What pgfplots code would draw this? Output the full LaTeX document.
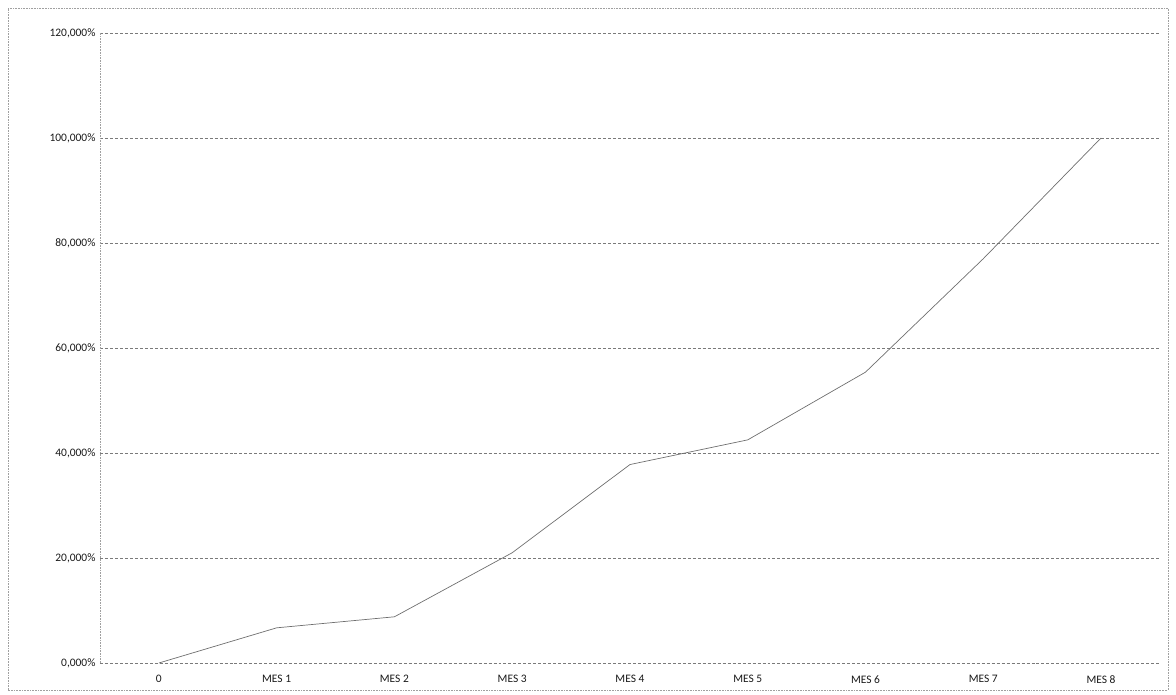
\documentclass[border=0pt]{standalone}
\usepackage{fontspec}
\setmainfont{Carlito}
\usepackage{pgfplots}
\pgfplotsset{compat=1.18}

\definecolor{gridgray}{HTML}{7A7A7A}
\definecolor{linegray}{HTML}{6E6E6E}
\definecolor{framegray}{HTML}{A0A0A0}

\begin{document}
\begin{tikzpicture}
\begin{axis}[
    scale only axis,
    width=1060bp, height=630bp,
    xmin=-0.5, xmax=8.5,
    ymin=0, ymax=120,
    xtick={0,1,2,3,4,5,6,7,8},
    xticklabels={0, MES 1, MES 2, MES 3, MES 4, MES 5, MES 6, MES 7, MES 8},
    ytick={0,20,40,60,80,100,120},
    yticklabel={\pgfmathprintnumber[fixed, fixed zerofill, precision=3, use comma]{\tick}\%},
    /pgf/number format/assume math mode=true,
    tick style={draw=none},
    ymajorgrids,
    grid style={gridgray, densely dashed, line width=0.6pt},
    axis line style={draw=none},
    axis x line*=bottom,
    axis y line*=left,
    ticklabel style={font=\fontsize{11.5}{13}\selectfont, text=black!90},
    xticklabel style={yshift=-9bp},
    yticklabel style={xshift=-1bp},
    clip=false,
]
% left axis line (dotted in the scan)
\addplot[framegray, densely dotted, line width=0.6pt, forget plot] coordinates {(-0.5,0) (-0.5,120)};
% cumulative progress
\addplot[linegray, line width=0.7pt, mark=none] coordinates {
    (0,0)
    (1,6.7)
    (2,8.8)
    (3,21.0)
    (4,37.8)
    (5,42.5)
    (6,55.4)
    (7,77.0)
    (8,100.0)
};
\end{axis}
% chart area border
\draw[framegray, densely dotted, line width=0.6pt] (-92bp,-27bp) rectangle (1068bp,655bp);
\path (-100bp,-32bp) rectangle (1076bp,663bp);
\end{tikzpicture}
\end{document}
